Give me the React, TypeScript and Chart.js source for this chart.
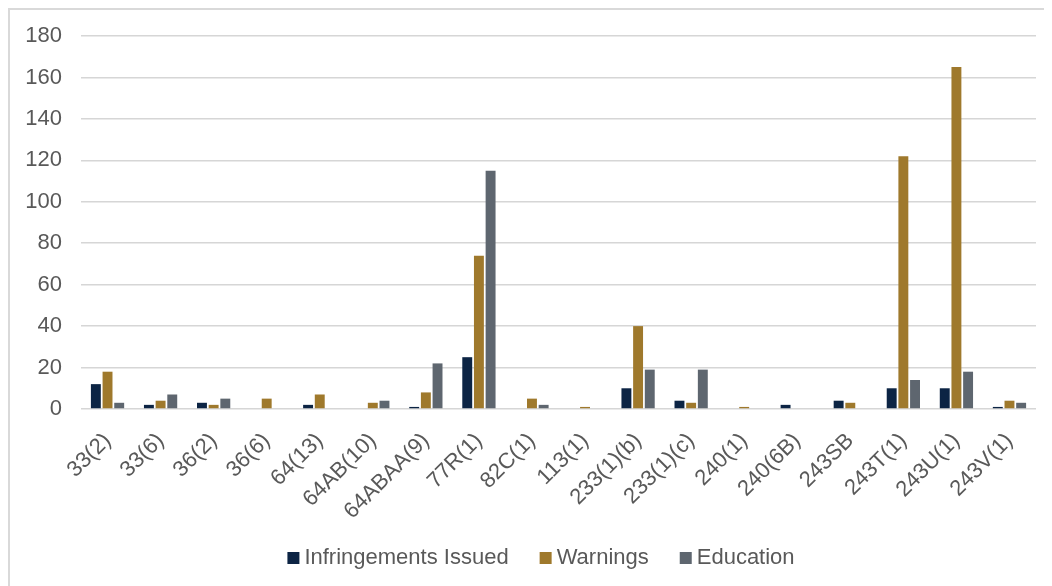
import React, { useEffect, useRef } from "react";
import { Chart, registerables } from "chart.js";

Chart.register(...registerables);

const categories = [
  "33(2)", "33(6)", "36(2)", "36(6)", "64(13)", "64AB(10)", "64ABAA(9)", "77R(1)", "82C(1)",
  "113(1)", "233(1)(b)", "233(1)(c)", "240(1)", "240(6B)", "243SB", "243T(1)", "243U(1)", "243V(1)",
];
const infringements = [12, 2, 3, 0, 2, 0, 1, 25, 0, 0, 10, 4, 0, 2, 4, 10, 10, 1];
const warnings = [18, 4, 2, 5, 7, 3, 8, 74, 5, 1, 40, 3, 1, 0, 3, 122, 165, 4];
const education = [3, 7, 5, 0, 0, 4, 22, 115, 2, 0, 19, 19, 0, 0, 0, 14, 18, 3];
const yTicks = [0, 20, 40, 60, 80, 100, 120, 140, 160, 180];

const FONT = "'Liberation Sans', Arial, sans-serif";
const TEXT = "#595959";

const legendPlugin = {
  id: "customLegend",
  afterDraw(chart: any) {
    const ctx = chart.ctx;
    const box = 12;
    const gapText = 5;
    const gapItem = 31;
    const cx = 531;
    const cy = 548;
    ctx.save();
    ctx.font = `22px ${FONT}`;
    const items = chart.data.datasets.map((d: any) => ({
      label: d.label,
      color: d.backgroundColor,
      w: ctx.measureText(d.label).width,
    }));
    const total =
      items.reduce((s: number, it: any) => s + box + gapText + it.w, 0) + gapItem * (items.length - 1);
    let x = cx - total / 2;
    ctx.textBaseline = "middle";
    ctx.textAlign = "left";
    for (const it of items) {
      ctx.fillStyle = it.color;
      ctx.fillRect(x, cy - box / 2, box, box);
      x += box + gapText;
      ctx.fillStyle = TEXT;
      ctx.fillText(it.label, x, cy);
      x += it.w + gapItem;
    }
    ctx.restore();
  },
};

export default function App() {
  const ref = useRef<HTMLCanvasElement>(null);
  useEffect(() => {
    if (!ref.current) return;
    const chart = new Chart(ref.current, {
      type: "bar",
      data: {
        labels: categories,
        datasets: [
          { label: "Infringements Issued", data: infringements, backgroundColor: "#0c2444" },
          { label: "Warnings", data: warnings, backgroundColor: "#9f792c" },
          { label: "Education", data: education, backgroundColor: "#5e666f" },
        ],
      },
      plugins: [legendPlugin],
      options: {
        animation: false,
        responsive: false,
        maintainAspectRatio: false,
        layout: { padding: { top: 26, right: 16, bottom: 51, left: 0 } },
        datasets: { bar: { categoryPercentage: 0.66, barPercentage: 0.85 } },
        plugins: {
          tooltip: { enabled: false },
          legend: { display: false },
        },
        scales: {
          x: {
            grid: { display: false },
            border: { display: false },
            ticks: {
              autoSkip: false,
              maxRotation: 45,
              minRotation: 45,
              padding: 11,
              font: { family: FONT, size: 22 },
              color: TEXT,
            },
            afterFit: (s: any) => { s.height = 126; },
          },
          y: {
            min: 0,
            max: 180,
            afterBuildTicks: (s: any) => { s.ticks = yTicks.map((v) => ({ value: v })); },
            grid: {
              color: "#d6d6d6",
              lineWidth: 1.5,
              drawTicks: true,
              tickLength: 16,
              tickColor: "rgba(0,0,0,0)",
            },
            border: { display: false },
            ticks: {
              padding: 3,
              font: { family: FONT, size: 22 },
              color: TEXT,
            },
            afterFit: (s: any) => { s.width = 71; },
          },
        },
      },
    });
    return () => chart.destroy();
  }, []);
  return (
    <div
      style={{
        width: 1044,
        height: 578,
        boxSizing: "border-box",
        borderTop: "2px solid #d9d9d9",
        borderLeft: "2px solid #d9d9d9",
        background: "#fff",
        overflow: "hidden",
      }}
    >
      <canvas ref={ref} width={1042} height={576} style={{ display: "block" }} />
    </div>
  );
}
